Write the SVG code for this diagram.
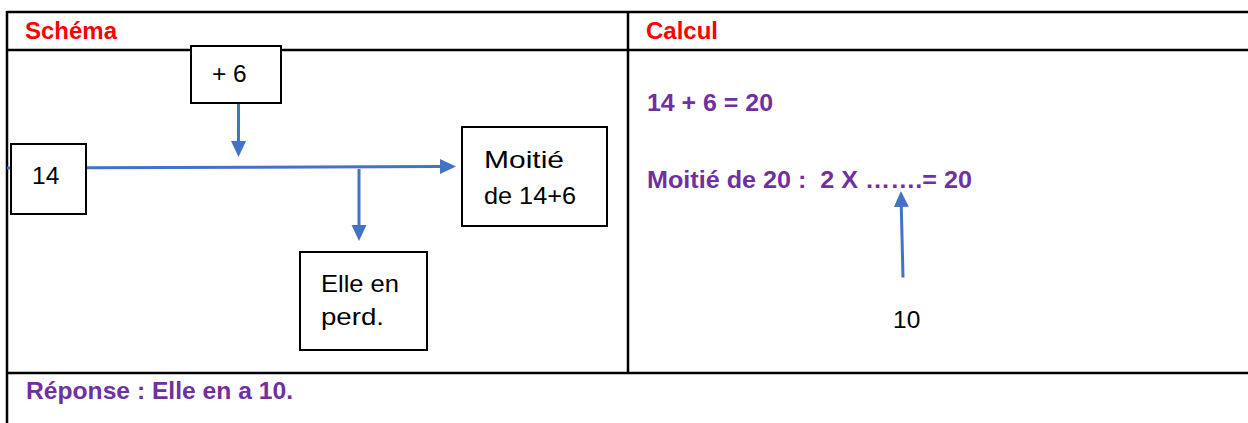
<svg xmlns="http://www.w3.org/2000/svg" width="1248" height="423" viewBox="0 0 1248 423">
<style>
.grid{stroke:#000;stroke-width:2.5;fill:none}
.box{fill:#fff;stroke:#000;stroke-width:2}
.hdr{font-family:"Liberation Sans",Arial,sans-serif;font-weight:bold;font-size:24px;fill:#FF0000}
.calc{font-family:"Liberation Sans",Arial,sans-serif;font-weight:bold;font-size:24.5px;fill:#7030A0}
.lbl{font-family:"Liberation Sans",Arial,sans-serif;font-size:24.5px;fill:#000}
.conn{stroke:#4472C4;stroke-width:3;fill:none}
</style>
<defs>
<marker id="ah" markerUnits="userSpaceOnUse" markerWidth="16" markerHeight="16" refX="0" refY="7.5" orient="auto" viewBox="0 0 16 15">
<path d="M0,0 L16,7.5 L0,15 Z" fill="#4472C4"/>
</marker>
</defs>
<rect width="1248" height="423" fill="#fff"/>
<g id="table">
<line class="grid" x1="7" y1="12" x2="1248" y2="12"/>
<line class="grid" x1="7" y1="50" x2="1248" y2="50"/>
<line class="grid" x1="7" y1="373" x2="1248" y2="373"/>
<line class="grid" x1="7" y1="11" x2="7" y2="423"/>
<line class="grid" x1="628" y1="11" x2="628" y2="373"/>
<text class="hdr" x="25" y="39">Schéma</text>
<text class="hdr" x="646" y="39">Calcul</text>
</g>
<g id="connectors">
<line class="conn" x1="7" y1="168" x2="440" y2="166.5" marker-end="url(#ah)"/>
<line class="conn" x1="238.5" y1="103" x2="238.5" y2="141" marker-end="url(#ah)"/>
<line class="conn" x1="359" y1="169" x2="359" y2="225" marker-end="url(#ah)"/>
<line class="conn" x1="903" y1="277.5" x2="901.3" y2="207" marker-end="url(#ah)"/>
</g>
<g id="node-plus6">
<rect class="box" x="191" y="46" width="90" height="57"/>
<text class="lbl" x="212" y="82">+ 6</text>
</g>
<g id="node-14">
<rect class="box" x="11" y="144" width="75" height="70"/>
<text class="lbl" x="32" y="183.5">14</text>
</g>
<g id="node-moitie">
<rect class="box" x="462" y="127" width="145" height="99"/>
<text class="lbl" x="484" y="168" textLength="80" lengthAdjust="spacingAndGlyphs">Moitié</text>
<text class="lbl" x="484" y="204" textLength="92" lengthAdjust="spacingAndGlyphs">de 14+6</text>
</g>
<g id="node-perd">
<rect class="box" x="300" y="252" width="127" height="98"/>
<text class="lbl" x="321" y="292" textLength="78" lengthAdjust="spacingAndGlyphs">Elle en</text>
<text class="lbl" x="321" y="325" textLength="63" lengthAdjust="spacingAndGlyphs">perd.</text>
</g>
<g id="calcul">
<text class="calc" x="647" y="111" textLength="126" lengthAdjust="spacingAndGlyphs">14 + 6 = 20</text>
<text class="calc" x="647" y="188" textLength="325" lengthAdjust="spacingAndGlyphs" xml:space="preserve">Moitié de 20 :  2 X …….= 20</text>
<text class="lbl" x="893" y="328">10</text>
</g>
<g id="reponse">
<text class="calc" x="26" y="399" textLength="267" lengthAdjust="spacingAndGlyphs">Réponse : Elle en a 10.</text>
</g>
</svg>
